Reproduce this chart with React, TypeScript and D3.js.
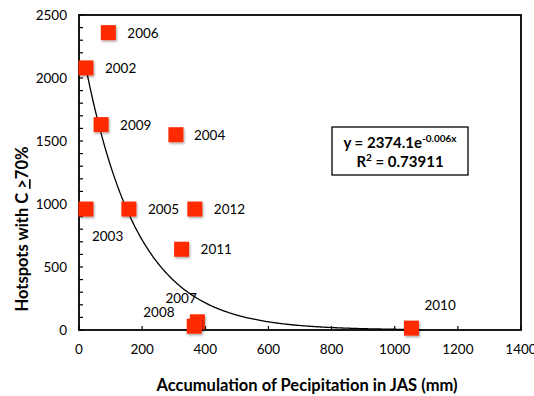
import React, { useEffect, useRef } from "react";
import * as d3 from "d3";

const years = ["2002", "2003", "2004", "2005", "2006", "2007", "2008", "2009", "2010", "2011", "2012"];
const precip = [22, 22, 307, 158, 93, 375, 365, 70, 1053, 325, 367];
const hotspots = [2080, 960, 1550, 960, 2360, 65, 30, 1630, 15, 641, 960];
// label offsets (dx, dy) relative to marker center, in pixels
const labelDx = [19, 6, 18, 19, 19, -32, -51, 19, 13, 19, 19];
const labelDy = [5, 32, 5, 5, 5, -19, -9, 5, -18, 5, 5];
const xTicks = [0, 200, 400, 600, 800, 1000, 1200, 1400];
const yTicks = [0, 500, 1000, 1500, 2000, 2500];
const fitA = 2374.1;
const fitB = -0.006;

export default function App() {
  const ref = useRef<SVGSVGElement>(null);
  useEffect(() => {
    const svg = d3.select(ref.current);
    svg.selectAll("*").remove();
    const font = "Lato, 'Open Sans', sans-serif";
    const x = d3.scaleLinear().domain([0, 1400]).range([79, 521]);
    const y = d3.scaleLinear().domain([0, 2500]).range([330, 15]);

    const defs = svg.append("defs");
    const f = defs.append("filter").attr("id", "sh").attr("x", "-30%").attr("y", "-30%").attr("width", "160%").attr("height", "160%");
    f.append("feDropShadow").attr("dx", 1).attr("dy", 1.5).attr("stdDeviation", 1).attr("flood-color", "#000").attr("flood-opacity", 0.35);

    const g = svg.append("g");
    d3.range(0, 2501, 100).forEach((v) => {
      g.append("line").attr("x1", x(0)).attr("x2", x(0) + 4).attr("y1", y(v)).attr("y2", y(v)).attr("stroke", "#000").attr("stroke-width", 1.2);
    });
    xTicks.forEach((v) => {
      g.append("line").attr("x1", x(v)).attr("x2", x(v)).attr("y1", y(0)).attr("y2", y(0) - 4).attr("stroke", "#000").attr("stroke-width", 1.2);
      g.append("text").attr("x", x(v)).attr("y", y(0) + 24).attr("text-anchor", "middle").attr("font-family", font).attr("font-size", 13.5).text(v);
    });
    yTicks.forEach((v) => {
      g.append("text").attr("x", 67).attr("y", y(v) + 5).attr("text-anchor", "end").attr("font-family", font).attr("font-size", 13.5).text(v);
    });
    g.append("rect").attr("x", x(0)).attr("y", y(2500)).attr("width", x(1400) - x(0)).attr("height", y(0) - y(2500))
      .attr("fill", "none").attr("stroke", "#000").attr("stroke-width", 1.8);

    const xs = d3.range(22, 1041, 4);
    const line = d3.line<number>().x((d) => x(d)).y((d) => y(fitA * Math.exp(fitB * d)));
    svg.append("path").attr("d", line(xs)).attr("fill", "none").attr("stroke", "#000").attr("stroke-width", 1.3);

    const s = 15;
    years.forEach((yr, i) => {
      const cx = x(precip[i]);
      const cy = y(hotspots[i]);
      svg.append("rect").attr("x", cx - s / 2).attr("y", cy - s / 2).attr("width", s).attr("height", s)
        .attr("fill", "#ff2a00").attr("filter", "url(#sh)");
    });
    years.forEach((yr, i) => {
      const cx = x(precip[i]);
      const cy = y(hotspots[i]);
      svg.append("text").attr("x", cx + labelDx[i]).attr("y", cy + labelDy[i]).attr("font-family", font).attr("font-size", 13.5).text(yr);
    });

    svg.append("rect").attr("x", 332).attr("y", 127).attr("width", 136).attr("height", 48).attr("fill", "#fff").attr("stroke", "#000").attr("stroke-width", 1.3);
    const t1 = svg.append("text").attr("x", 400).attr("y", 148).attr("text-anchor", "middle").attr("font-family", font).attr("font-weight", "bold").attr("font-size", 15);
    t1.append("tspan").text("y = 2374.1e");
    t1.append("tspan").attr("dy", -6).attr("font-size", 10).text("-0.006x");
    const t2 = svg.append("text").attr("x", 400).attr("y", 167).attr("text-anchor", "middle").attr("font-family", font).attr("font-weight", "bold").attr("font-size", 15);
    t2.append("tspan").text("R");
    t2.append("tspan").attr("dy", -6).attr("font-size", 10).text("2");
    t2.append("tspan").attr("dy", 6).text(" = 0.73911");

    svg.append("text").attr("x", 307).attr("y", 391).attr("text-anchor", "middle").attr("font-family", font).attr("font-weight", "bold").attr("font-size", 16.5)
      .text("Accumulation of Pecipitation in JAS (mm)");
    const yt = svg.append("text").attr("transform", "translate(28,229) rotate(-90)").attr("text-anchor", "middle").attr("font-family", font).attr("font-weight", "bold").attr("font-size", 16.5);
    yt.append("tspan").text("Hotspots with C ");
    yt.append("tspan").attr("text-decoration", "underline").text(">");
    yt.append("tspan").text("70%");
  }, []);
  return (
    <svg ref={ref} width={534} height={396} style={{ position: "absolute", left: 0, top: 0, background: "#fff" }} />
  );
}
